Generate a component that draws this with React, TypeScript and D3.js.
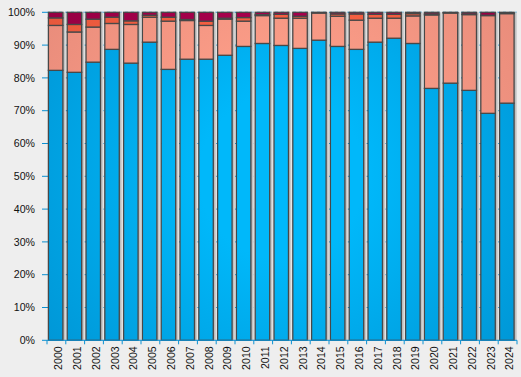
import React from "react";
import * as d3 from "d3";

const years = ["2000","2001","2002","2003","2004","2005","2006","2007","2008","2009","2010","2011","2012","2013","2014","2015","2016","2017","2018","2019","2020","2021","2022","2023","2024"];
const blue = [82.3,81.7,84.8,88.7,84.5,90.9,82.6,85.7,85.7,86.9,89.6,90.5,89.9,89.0,91.5,89.6,88.7,90.9,92.1,90.5,76.8,78.4,76.2,69.2,72.3];
const salmon = [13.7,12.3,10.7,7.9,11.8,7.6,14.7,11.8,10.3,11.0,7.7,8.5,8.3,9.2,8.3,9.2,8.9,7.3,6.1,8.4,22.4,21.4,23.1,29.8,27.3];
const orange = [2.3,2.3,2.4,1.9,1.1,0.6,1.2,0.3,1.3,0.3,1.1,0.3,1.2,0.6,0.1,0.7,1.9,1.2,1.2,0.7,0.3,0.1,0.2,0.1,0.2];
const crimson = [1.7,3.7,2.1,1.5,2.6,0.9,1.5,2.2,2.7,1.8,1.6,0.7,0.6,1.2,0.1,0.5,0.5,0.6,0.6,0.4,0.5,0.1,0.5,0.9,0.2];
const yTicks = [0,10,20,30,40,50,60,70,80,90,100];

const seriesNames = ["blue","salmon","orange","crimson"];
const seriesValues = [blue, salmon, orange, crimson];
const seriesColors = [
  ["#00b8fa", "#0090cf"],
  ["#ffa08a", "#e48878"],
  ["#ff6444", "#e0553a"],
  ["#b00052", "#90003f"],
];

const W = 521, H = 377;
const left = 47, right = 517, top = 12.3, bottom = 340.3;

export default function App() {
  const x = d3.scaleBand<string>().domain(years).range([left, right]).padding(0);
  const y = d3.scaleLinear().domain([0, 100]).range([bottom, top]);
  const bw = x.bandwidth();
  const barW = bw * 0.77;
  const rows = years.map((yr, i) => {
    const r: any = { year: yr };
    seriesNames.forEach((s, k) => (r[s] = seriesValues[k][i]));
    return r;
  });
  const stacked = d3.stack().keys(seriesNames)(rows);
  const cx = (left + right) / 2, cy = (top + bottom) / 2;

  return (
    <div style={{ position: "fixed", left: 0, top: 0 }}>
      <svg width={W} height={H} style={{ display: "block", background: "#eeeeee" }}
        fontFamily="'Liberation Sans', Arial, sans-serif">
        <defs>
          {seriesColors.map((c, k) => (
            <radialGradient key={k} id={"g" + k} gradientUnits="userSpaceOnUse" cx={cx} cy={cy} r={330}>
              <stop offset="0%" stopColor={c[0]} />
              <stop offset="25%" stopColor={c[0]} />
              <stop offset="100%" stopColor={c[1]} />
            </radialGradient>
          ))}
          <linearGradient id="shadow" x1="0" x2="1" y1="0" y2="0">
            <stop offset="0%" stopColor="#a8a8a8" />
            <stop offset="100%" stopColor="#dcdcdc" />
          </linearGradient>
        </defs>
        <rect x={0} y={0} width={W} height={H} fill="#eeeeee" />
        {yTicks.filter(t => t > 0).map(t => (
          <line key={"g" + t} x1={left} x2={right} y1={y(t)} y2={y(t)} stroke="#0a90d2" strokeWidth={1} strokeDasharray="3,3" />
        ))}
        {yTicks.map(t => (
          <g key={"yt" + t}>
            <line x1={42} x2={left} y1={y(t)} y2={y(t)} stroke="#0a90d2" strokeWidth={1} />
            <text x={35} y={y(t)} dy="0.35em" textAnchor="end" fontSize={10.6} fill="#111">{t + "%"}</text>
          </g>
        ))}
        {years.map(yr => (
          <rect key={"sh" + yr} x={(x(yr) as number) + 1.4 + barW} y={y(100)} width={3} height={bottom - y(100)} fill="url(#shadow)" />
        ))}
        {stacked.map((layer, k) => (
          <g key={"s" + k}>
            {layer.map((d, i) => (
              <rect key={i} x={(x(years[i]) as number) + 1.4} y={y(d[1])} width={barW} height={Math.max(0, y(d[0]) - y(d[1]))}
                fill={`url(#g${k})`} stroke="#484848" strokeWidth={1.3} />
            ))}
          </g>
        ))}
        <line x1={left} x2={right} y1={bottom} y2={bottom} stroke="#0a90d2" strokeWidth={1} />
        {[...years.map(yr => x(yr) as number), right].map((px, i) => (
          <line key={"xt" + i} x1={px} x2={px} y1={bottom} y2={bottom + 4} stroke="#0a90d2" strokeWidth={1} />
        ))}
        {years.map(yr => {
          const px = (x(yr) as number) + bw / 2 + 2;
          const py = bottom + 6;
          return (
            <text key={"xl" + yr} transform={`translate(${px},${py}) rotate(-90)`} dy="0.35em" textAnchor="end" fontSize={10.6} fill="#111">{yr}</text>
          );
        })}
      </svg>
    </div>
  );
}
